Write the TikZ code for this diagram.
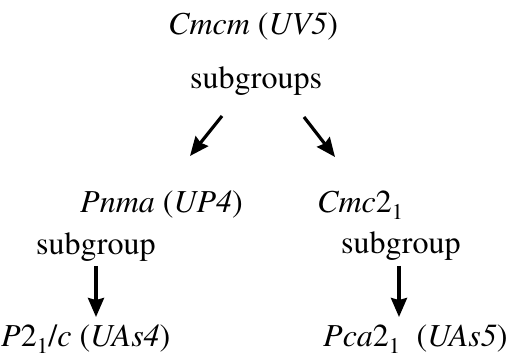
\documentclass[tikz,border=0pt]{standalone}
\usepackage{fontspec}
\setmainfont{TeX Gyre Termes}
\usetikzlibrary{arrows.meta}
\begin{document}
\begin{tikzpicture}[x=1pt,y=-1pt,
  lbl/.style={anchor=base west,inner sep=0pt,font=\fontsize{32}{38}\selectfont},
  arr/.style={line width=3.2pt,-{Triangle[length=19pt,width=16pt,inset=2pt]}}]
\useasboundingbox (0,0) rectangle (507,358);
% group labels
\node[lbl] (top) at (168,35) {\textit{Cmcm} (\textit{UV5})};
\node[lbl] (sgs) at (190,89) {subgroups};
\node[lbl] (pnma) at (80,213) {\textit{Pnma} (\textit{UP4})};
\node[lbl] (cmc) at (317,213) {\textit{Cmc}2\textsubscript{1}};
\node[lbl] (sgl) at (36,255) {subgroup};
\node[lbl] (sgr) at (341,254) {subgroup};
\node[lbl] (p21c) at (1,347) {\textit{P}2\textsubscript{1}/\textit{c} (\textit{UAs4})};
\node[lbl] (pca) at (323,347) {\textit{Pca}2\textsubscript{1}\ \ (\textit{UAs5})};
% arrow end points
\coordinate (a1s) at (222,116);
\coordinate (a1e) at (190,156);
\coordinate (a2s) at (304,117);
\coordinate (a2e) at (335,157);
\coordinate (a3s) at (96,266);
\coordinate (a3e) at (96,317);
\coordinate (a4s) at (399,266);
\coordinate (a4e) at (399,317);
\draw[arr] (a1s) -- (a1e);
\draw[arr] (a2s) -- (a2e);
\draw[arr] (a3s) -- (a3e);
\draw[arr] (a4s) -- (a4e);
\end{tikzpicture}
\end{document}
